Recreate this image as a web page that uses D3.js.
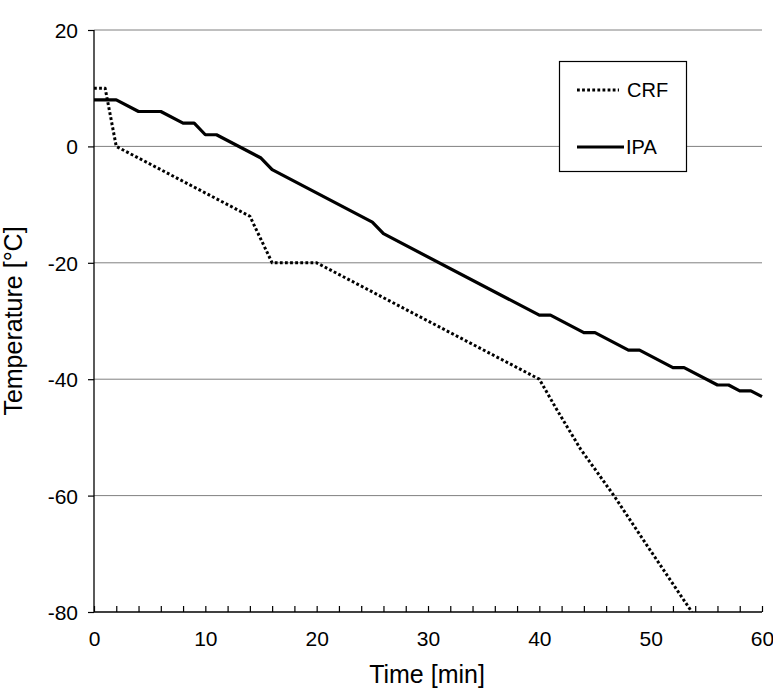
<!DOCTYPE html>
<html>
<head>
<meta charset="utf-8">
<script src="https://cdn.jsdelivr.net/npm/d3@7"></script>
<style>
  body { margin: 0; background: #fff; }
  svg { display: block; }
  text { font-family: "Liberation Sans", Arial, Helvetica, sans-serif; fill: #000; }
</style>
</head>
<body>
<svg id="chart" width="773" height="691"></svg>
<script>
// Data
const crfTime = [0, 1, 2, 14, 16, 20, 40, 41.5, 43.7, 46.7, 50, 53.7];
const crfTemp = [10, 10, 0, -12, -20, -20, -40, -45, -52, -60, -69.5, -80];

const ipaTime = [0, 2, 4, 6, 8, 9, 10, 11, 15, 16, 25, 26, 40, 41, 44, 45, 48, 49, 52, 53, 56, 57, 58, 59, 60];
const ipaTemp = [8, 8, 6, 6, 4, 4, 2, 2, -2, -4, -13, -15, -29, -29, -32, -32, -35, -35, -38, -38, -41, -41, -42, -42, -43];

const xTicksMajor = [0, 10, 20, 30, 40, 50, 60];
const yTicks = [-80, -60, -40, -20, 0, 20];
const seriesNames = ["CRF", "IPA"];
const xTitle = "Time [min]";
const yTitle = "Temperature [°C]";

const svg = d3.select("#chart");
const pLeft = 94, pRight = 762, pTop = 30, pBottom = 612;

const x = d3.scaleLinear().domain([0, 60]).range([pLeft, pRight]);
const y = d3.scaleLinear().domain([-80, 20]).range([pBottom, pTop]);

const fmt = d => String(d);

// gridlines
svg.append("g").selectAll("line")
  .data(yTicks.filter(v => v !== -80))
  .join("line")
  .attr("x1", pLeft).attr("x2", pRight)
  .attr("y1", d => y(d)).attr("y2", d => y(d))
  .attr("stroke", "#808080").attr("stroke-width", 1);

// clip
svg.append("clipPath").attr("id", "plotclip")
  .append("rect").attr("x", pLeft).attr("y", pTop - 5).attr("width", pRight - pLeft + 2).attr("height", pBottom - pTop + 5);

const line = d3.line().x(d => x(d[0])).y(d => y(d[1]));
const crf = crfTime.map((t, i) => [t, crfTemp[i]]);
const ipa = ipaTime.map((t, i) => [t, ipaTemp[i]]);

const dotted = "2.8,2.3";
const gLines = svg.append("g").attr("clip-path", "url(#plotclip)");
gLines.append("path").datum(crf).attr("d", line)
  .attr("fill", "none").attr("stroke", "#000").attr("stroke-width", 3)
  .attr("stroke-dasharray", dotted).attr("stroke-linejoin", "round");
gLines.append("path").datum(ipa).attr("d", line)
  .attr("fill", "none").attr("stroke", "#000").attr("stroke-width", 3.2)
  .attr("stroke-linejoin", "round");

// Y axis
const yAxis = d3.axisLeft(y).tickValues(yTicks).tickSize(6).tickPadding(10).tickFormat(fmt);
const gy = svg.append("g").attr("transform", `translate(${pLeft},0)`).call(yAxis);
gy.select(".domain").attr("stroke", "#000").attr("stroke-width", 1.3).attr("d", `M0,${pTop}V${pBottom}`);
gy.selectAll(".tick line").attr("stroke", "#000").attr("stroke-width", 1.2);
gy.selectAll(".tick text").style("font-size", "21px").style("font-family", "'Liberation Sans', Arial, sans-serif").attr("dy", "0.36em");

// X axis
const xAxisMinor = d3.axisBottom(x).tickValues(d3.range(0, 61, 2)).tickSize(-6).tickFormat("");
const gxm = svg.append("g").attr("transform", `translate(0,${pBottom})`).call(xAxisMinor);
gxm.select(".domain").remove();
gxm.selectAll(".tick line").attr("stroke", "#000").attr("stroke-width", 1.2);

const xAxis = d3.axisBottom(x).tickValues(xTicksMajor).tickSize(0).tickPadding(19).tickFormat(fmt);
const gx = svg.append("g").attr("transform", `translate(0,${pBottom})`).call(xAxis);
gx.select(".domain").attr("stroke", "#000").attr("stroke-width", 1.3).attr("d", `M${pLeft},0H${pRight}`);
gx.selectAll(".tick text").style("font-size", "21px").style("font-family", "'Liberation Sans', Arial, sans-serif");

// axis titles
svg.append("text").attr("x", (pLeft + pRight) / 2 - 1).attr("y", 683)
  .attr("text-anchor", "middle").style("font-size", "25px").text(xTitle);
svg.append("text").attr("transform", `translate(22,${(pTop + pBottom) / 2}) rotate(-90)`)
  .attr("text-anchor", "middle").style("font-size", "25px").text(yTitle);

// legend
const lg = svg.append("g");
lg.append("rect").attr("x", 559.5).attr("y", 61.5).attr("width", 127).attr("height", 110)
  .attr("fill", "#fff").attr("stroke", "#000").attr("stroke-width", 1.2);
const legendY = [90, 147];
lg.append("line").attr("x1", 577).attr("x2", 619).attr("y1", legendY[0]).attr("y2", legendY[0])
  .attr("stroke", "#000").attr("stroke-width", 3).attr("stroke-dasharray", dotted);
lg.append("line").attr("x1", 577).attr("x2", 624).attr("y1", legendY[1]).attr("y2", legendY[1])
  .attr("stroke", "#000").attr("stroke-width", 3.2);
lg.selectAll("text.leg").data(seriesNames).join("text").attr("class", "leg")
  .attr("x", (d, i) => i === 0 ? 627 : 626).attr("y", (d, i) => legendY[i]).attr("dy", "0.36em")
  .style("font-size", "20px").text(d => d);
</script>
</body>
</html>
